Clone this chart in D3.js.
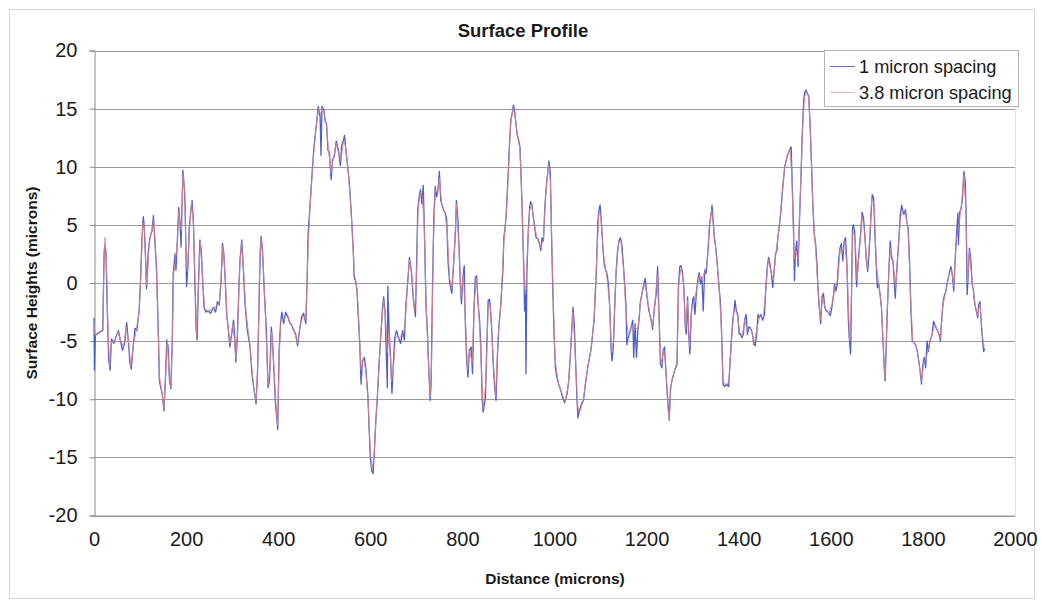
<!DOCTYPE html>
<html>
<head>
<meta charset="utf-8">
<script src="https://cdn.jsdelivr.net/npm/d3@7"></script>
<style>
  body { margin: 0; background: #fff; }
  svg { font-family: "Liberation Sans", Arial, sans-serif; }
</style>
</head>
<body>
<svg width="1044" height="606"></svg>
<script>
// tick values
var xTicks = [0, 200, 400, 600, 800, 1000, 1200, 1400, 1600, 1800, 2000]
var yTicks = [-20, -15, -10, -5, 0, 5, 10, 15, 20]
var seriesNames = ["1 micron spacing", "3.8 micron spacing"]

// [distance, height]
var profile1 = [[0,-3],[1,-7.5],[3,-4.5],[6,-4.4],[13,-4.2],[19,-4.1],[22,2.7],[24,3.3],[26,2.5],[29,-2.6],[32,-6.6],[35,-7.5],[38,-4.8],[43,-5.2],[48,-4.6],[53,-4.1],[57,-4.9],[62,-5.8],[67,-5.1],[71,-3.4],[75,-5.2],[78,-6.9],[81,-7.4],[85,-5.5],[89,-3.9],[93,-4.1],[98,-2.4],[101,0.2],[104,3.7],[107,5.7],[109,5.0],[112,2.2],[114,-0.5],[118,2.8],[122,4.0],[126,4.5],[129,5.8],[132,3.7],[136,1.1],[140,-4.7],[142,-8.4],[145,-9],[148,-9.5],[152,-11],[155,-8.4],[158,-4.9],[161,-5.5],[164,-8.4],[167,-9.1],[170,-4.9],[172,0.8],[176,2.5],[178,1.1],[181,3.7],[184,6.5],[187,5.1],[189,3.1],[191,6.5],[193,9.7],[196,8.3],[198,6.5],[201,-0.3],[204,1.4],[207,4.8],[211,6.5],[213,7.1],[216,5.1],[219,0.2],[222,-4.1],[224,-4.9],[227,0.2],[230,3.7],[233,2.8],[236,0.2],[239,-2.1],[243,-2.5],[248,-2.4],[253,-2.6],[259,-2.1],[264,-2.5],[268,-1.6],[272,-1.9],[276,0.2],[279,3.4],[282,2.5],[285,0.2],[288,-2.6],[292,-4.1],[295,-5.5],[299,-4.4],[303,-3.2],[306,-4.9],[308,-6.8],[311,-4.9],[314,-1.2],[317,2.0],[321,3.7],[324,1.4],[328,-1.8],[333,-4.1],[339,-5.5],[343,-7.8],[348,-9.3],[352,-10.4],[355,-7.8],[358,-2.6],[361,2.8],[363,4.0],[366,2.8],[369,-0.1],[374,-3.8],[378,-9],[381,-8.4],[385,-3.8],[388,-5.2],[391,-7.8],[394,-10.4],[397,-11.6],[399,-12.6],[402,-5.8],[405,-3.5],[408,-2.5],[412,-3.5],[416,-2.5],[421,-2.9],[425,-3.4],[429,-3.6],[434,-4.1],[438,-4.4],[442,-5.4],[447,-3.9],[451,-2.9],[455,-2.6],[460,-3.5],[463,0.5],[465,4.3],[468,6.0],[473,9.1],[477,11.4],[480,12.6],[484,14],[487,15.2],[491,14.3],[493,11.0],[495,15.2],[499,14.9],[502,13.9],[505,13.7],[508,11.4],[511,11.3],[515,8.9],[518,10.6],[522,10.9],[526,12.2],[531,11.4],[535,10.1],[538,11.9],[542,12.3],[544,12.7],[547,11.4],[551,10],[554,8.9],[557,7.1],[560,5.1],[563,2.8],[565,0.5],[568,0.2],[571,-0.6],[574,-2.9],[577,-5.2],[580,-8.7],[583,-6.7],[587,-6.4],[590,-7.2],[595,-9.8],[597,-12.1],[600,-15.0],[603,-16.1],[606,-16.4],[609,-14.4],[612,-11.8],[615,-10.1],[619,-7],[624,-3.8],[626,-2.4],[629,-1.2],[632,-2.4],[635,-6.4],[637,-9],[638,-0.3],[641,-4.1],[644,-6.4],[647,-9.5],[650,-7],[653,-4.7],[657,-4.1],[661,-4.7],[666,-5.2],[670,-4.1],[674,-4.9],[677,-2.1],[682,0.5],[685,2.2],[689,1.1],[693,-1.2],[698,-2.9],[700,0.5],[703,6.3],[706,7.4],[709,8.0],[712,6.8],[715,8.4],[718,3.7],[721,-2.1],[724,-4.1],[727,-7.5],[730,-10.1],[732,-8.7],[735,-0.6],[738,5.7],[741,8.3],[744,7.4],[747,8.0],[750,9.6],[753,7.1],[756,6.7],[759,6.3],[763,6.0],[766,5.4],[769,1.7],[772,0.2],[774,-0.3],[777,-0.9],[781,1.7],[785,4.5],[787,7.1],[790,5.7],[793,2.8],[796,-0.6],[798,-1.8],[801,0.5],[804,1.5],[806,-3.0],[809,-6.4],[812,-8.1],[815,-5.8],[819,-5.5],[822,-7.8],[825,-2.4],[828,0.5],[831,0.6],[834,-1.8],[837,-3],[840,-5.3],[843,-10.1],[845,-11.1],[850,-9.9],[853,-5.3],[856,-1.5],[859,-1.4],[861,-2.4],[864,-4.1],[867,-7],[870,-9],[873,-10.1],[876,-6.4],[879,-3.8],[883,-2.1],[888,1.1],[890,3.9],[893,4.8],[896,6.5],[899,9.1],[902,11.7],[905,14],[908,14.6],[911,15.3],[914,14.6],[917,13.4],[919,12.8],[922,12.3],[925,11.7],[928,8.5],[931,4.5],[934,0.2],[935,-2.4],[937,-0.7],[938,-7.8],[940,0.8],[943,4.5],[946,6.5],[948,7.0],[951,6.7],[954,5.7],[957,4.8],[960,3.9],[964,3.8],[967,3.4],[970,2.8],[973,3.9],[976,3.6],[979,6.5],[982,8.2],[985,9.4],[988,10.5],[991,9.4],[993,5.1],[996,-0.1],[999,-4.4],[1002,-7.3],[1005,-8.1],[1009,-8.7],[1014,-9.3],[1018,-9.9],[1022,-10.3],[1027,-9.6],[1031,-8.4],[1035,-5.8],[1040,-2.1],[1043,-3.5],[1046,-7],[1049,-10.1],[1051,-11.6],[1054,-11],[1059,-10.4],[1063,-10.1],[1067,-8.7],[1072,-7.3],[1076,-6.4],[1079,-5.8],[1082,-4.7],[1086,-3.2],[1091,1.1],[1094,5.1],[1096,6.2],[1099,6.7],[1102,5.1],[1105,3.1],[1108,1.6],[1111,1.1],[1114,0.8],[1117,-0.1],[1120,-2.1],[1123,-5.8],[1125,-6.7],[1128,-5.3],[1131,-1.8],[1134,1.1],[1137,2.8],[1140,3.6],[1143,3.9],[1146,3.4],[1149,1.9],[1152,0.2],[1155,-1.8],[1157,-5.3],[1160,-4.7],[1165,-4.1],[1168,-3.5],[1170,-3.2],[1172,-6.4],[1175,-3.5],[1178,-6.4],[1181,-4.1],[1184,-3],[1186,-1.8],[1191,-0.7],[1194,-0.1],[1197,0.4],[1201,-1.2],[1205,-2.4],[1210,-3.2],[1213,-4],[1217,-2.1],[1221,-0.9],[1224,1.4],[1227,-2.7],[1230,-7],[1233,-7.3],[1236,-5.8],[1239,-5.5],[1241,-7],[1244,-9],[1247,-10.7],[1249,-11.8],[1252,-9],[1255,-8.4],[1259,-7.8],[1263,-7.3],[1266,-7],[1269,-0.4],[1272,1.4],[1275,1.5],[1278,0.9],[1281,-0.4],[1284,-3.8],[1286,-4.4],[1289,-1.2],[1291,-4.1],[1294,-6.1],[1297,-2.7],[1300,-1.5],[1302,-1.2],[1305,-2.7],[1308,-0.9],[1311,0.2],[1314,0.9],[1317,-0.1],[1320,0.5],[1323,-2.4],[1326,1.1],[1329,0.8],[1331,1.6],[1334,3.1],[1337,5.1],[1340,5.9],[1342,6.7],[1345,5.1],[1347,3.9],[1350,3.1],[1353,1.9],[1356,0.2],[1360,-1.5],[1363,-4.4],[1366,-8.7],[1369,-8.9],[1374,-8.7],[1378,-8.9],[1381,-7],[1384,-5],[1387,-3.2],[1390,-2.4],[1392,-1.5],[1395,-2.4],[1398,-2.7],[1401,-4.4],[1404,-4.4],[1407,-4.7],[1410,-4.4],[1413,-3.2],[1416,-2.7],[1419,-4.4],[1422,-3.8],[1424,-3.8],[1427,-4],[1430,-4.4],[1433,-5.3],[1436,-5.4],[1439,-4.4],[1442,-2.7],[1445,-3],[1448,-2.7],[1452,-3.2],[1456,-2.7],[1459,-0.4],[1462,1.4],[1465,2.2],[1468,1.6],[1471,0.8],[1474,-0.4],[1477,1.1],[1480,2.5],[1483,2.8],[1485,3.9],[1488,4.8],[1491,5.9],[1494,7.4],[1497,8.8],[1500,10],[1503,10.5],[1506,11],[1509,11.3],[1512,11.6],[1514,11.7],[1516,8.8],[1519,5.1],[1521,0.2],[1523,2.5],[1526,3.6],[1529,1.4],[1532,5.4],[1535,8.8],[1538,12.8],[1541,15.7],[1543,16.3],[1546,16.6],[1549,16.3],[1552,16.1],[1555,13.7],[1558,10.3],[1561,6.8],[1564,4.2],[1567,3.4],[1570,1.6],[1572,-0.4],[1575,-2.1],[1578,-3.5],[1581,-1.2],[1584,-0.9],[1587,-2.1],[1590,-2.4],[1594,-2.5],[1599,-2.8],[1603,-1.9],[1606,-1],[1608,-0.1],[1611,-0.7],[1614,-0.1],[1617,1.9],[1620,3],[1623,3.4],[1626,1.9],[1629,3.6],[1632,3.9],[1635,1.6],[1638,-3],[1640,-4.7],[1643,-6.1],[1645,-1],[1647,4.7],[1649,5],[1652,4.4],[1655,0.7],[1656,-0.3],[1659,1.6],[1662,3],[1665,4.4],[1668,6.1],[1671,5.6],[1674,4.1],[1677,2.1],[1680,1],[1682,1.9],[1685,3.9],[1688,6.4],[1690,7.6],[1693,7.3],[1696,4.1],[1699,1.3],[1701,-0.4],[1704,-0.1],[1707,-1],[1710,-2.1],[1713,-4.7],[1716,-7.3],[1718,-8.4],[1720,-5.9],[1723,-2.1],[1726,1],[1729,3.6],[1732,2.1],[1735,1.9],[1738,-0.1],[1740,-1.3],[1742,0.4],[1745,2.1],[1748,3.9],[1751,5.9],[1754,6.7],[1757,6.1],[1759,5.9],[1762,6.3],[1765,5.3],[1768,4.7],[1771,1.9],[1774,-2.4],[1777,-5],[1780,-5.1],[1784,-5.3],[1788,-5.9],[1791,-6.7],[1794,-7.6],[1797,-8.7],[1800,-7],[1803,-6.4],[1806,-7.3],[1809,-5],[1812,-5.9],[1815,-5],[1818,-4.7],[1820,-4.4],[1823,-3.3],[1826,-3.6],[1829,-3.9],[1832,-4.1],[1835,-4.4],[1838,-5],[1841,-3],[1844,-1.6],[1847,-1],[1850,-0.7],[1852,-0.1],[1855,0.4],[1858,1],[1861,1.4],[1864,0.7],[1867,-0.7],[1870,1.9],[1873,4.1],[1876,6],[1877,3.3],[1880,6.1],[1883,6.4],[1886,7.3],[1889,9.6],[1892,8.7],[1894,5.6],[1896,-1],[1898,0.4],[1901,3],[1904,2.1],[1907,-0.1],[1910,-0.7],[1913,-1.9],[1916,-2.4],[1919,-3],[1921,-1.9],[1924,-1.6],[1927,-3.6],[1929,-4.7],[1932,-5.9],[1934,-5.6]]

var profile38 = [[0,-3.5],[3,-4.5],[8,-4.4],[15,-4.2],[19,-4.0],[22,2.5],[24,3.9],[27,2.0],[30,-3.5],[34,-7.2],[38,-5.0],[45,-5.0],[52,-4.2],[58,-5.0],[64,-5.5],[70,-3.8],[75,-5.0],[80,-7.2],[86,-5.2],[92,-4.0],[98,-2.5],[102,1.0],[106,5.0],[109,5.2],[112,2.0],[115,-0.2],[120,3.5],[127,4.8],[130,5.5],[134,2.5],[138,-2.0],[142,-8.0],[147,-9.3],[152,-10.8],[156,-7.5],[159,-5.0],[163,-7.8],[167,-9.0],[170,-5.0],[173,0.8],[177,2.0],[181,3.5],[184,6.2],[187,5.0],[190,4.5],[193,9.3],[197,7.8],[200,2.0],[203,1.0],[207,4.5],[212,7.0],[216,5.0],[219,0.5],[223,-4.5],[227,0.0],[231,3.5],[235,1.0],[240,-2.2],[248,-2.4],[258,-2.2],[266,-2.0],[272,-1.8],[276,0.5],[280,3.2],[285,0.5],[289,-3.0],[295,-5.2],[302,-3.5],[308,-6.5],[312,-4.0],[316,1.0],[320,3.5],[325,1.0],[330,-2.5],[339,-5.5],[346,-8.8],[352,-10.2],[356,-6.5],[360,2.0],[363,3.8],[367,2.0],[372,-2.5],[378,-8.8],[382,-7.5],[386,-4.2],[391,-7.5],[396,-11.0],[399,-12.3],[402,-6.5],[406,-3.2],[412,-3.2],[418,-2.8],[426,-3.4],[434,-4.0],[442,-5.2],[448,-3.6],[455,-2.8],[460,-3.2],[464,2.0],[469,6.5],[474,9.5],[479,12.0],[484,14.0],[488,15.0],[492,14.5],[496,15.0],[500,14.5],[505,13.5],[509,11.5],[515,9.5],[520,10.8],[526,12.0],[532,11.0],[536,10.5],[542,12.2],[546,11.8],[551,10.0],[556,7.5],[560,5.0],[565,1.0],[571,-0.5],[576,-4.0],[580,-7.5],[585,-6.5],[590,-7.5],[595,-10.0],[600,-14.5],[604,-16.0],[608,-15.0],[612,-12.0],[617,-8.5],[623,-4.2],[629,-1.5],[633,-3.0],[637,-6.0],[641,-4.5],[646,-8.5],[650,-7.5],[655,-4.5],[662,-4.8],[670,-4.3],[675,-4.0],[680,-0.5],[685,2.0],[690,0.8],[696,-2.5],[700,0.0],[704,6.5],[709,7.8],[713,7.5],[717,5.0],[721,-1.5],[726,-6.5],[730,-9.8],[733,-7.0],[737,3.5],[741,8.0],[746,7.8],[750,9.0],[755,6.8],[762,6.0],[767,4.5],[772,0.5],[777,-0.5],[783,3.0],[787,6.8],[792,3.5],[797,-1.2],[802,0.8],[806,-2.5],[811,-7.5],[816,-5.8],[821,-7.0],[826,-1.5],[831,0.5],[836,-2.8],[841,-7.0],[845,-10.8],[851,-8.5],[856,-2.0],[861,-2.0],[866,-6.0],[872,-9.8],[877,-5.0],[884,-1.5],[890,3.5],[896,6.3],[901,10.5],[905,13.8],[910,15.0],[914,14.5],[919,12.8],[925,11.5],[929,7.5],[934,0.5],[937,-1.0],[941,2.5],[946,6.3],[950,6.8],[956,5.0],[962,3.9],[970,3.0],[976,3.8],[981,7.8],[987,10.2],[991,8.8],[996,0.5],[1001,-6.5],[1008,-8.5],[1016,-9.5],[1023,-10.2],[1030,-8.8],[1035,-5.8],[1040,-2.5],[1045,-6.0],[1050,-10.5],[1054,-11.2],[1062,-10.2],[1070,-7.8],[1080,-5.5],[1086,-3.0],[1092,2.5],[1097,6.3],[1101,5.5],[1106,2.5],[1113,0.8],[1119,-1.5],[1124,-6.0],[1128,-5.0],[1133,0.5],[1139,3.4],[1144,3.7],[1150,1.2],[1155,-2.5],[1160,-4.5],[1168,-3.6],[1175,-3.8],[1181,-4.0],[1187,-1.5],[1194,0.0],[1200,-0.8],[1208,-3.0],[1213,-3.8],[1218,-1.8],[1223,0.8],[1227,-3.0],[1231,-7.0],[1237,-5.8],[1241,-6.8],[1246,-10.5],[1249,-11.8],[1253,-8.8],[1260,-7.6],[1266,-6.8],[1270,0.0],[1275,1.4],[1280,0.0],[1285,-4.0],[1289,-1.5],[1293,-5.5],[1298,-2.2],[1303,-1.5],[1309,-0.5],[1315,0.7],[1320,0.3],[1325,0.8],[1331,1.5],[1336,4.8],[1341,6.3],[1345,5.0],[1350,3.0],[1356,0.5],[1362,-3.5],[1366,-8.5],[1373,-8.8],[1379,-8.5],[1384,-5.0],[1390,-2.3],[1396,-2.5],[1402,-4.2],[1408,-4.5],[1413,-3.2],[1419,-4.0],[1426,-3.9],[1434,-5.2],[1440,-3.8],[1446,-2.8],[1453,-3.0],[1458,-1.0],[1464,2.0],[1470,1.0],[1475,0.2],[1481,2.6],[1487,4.5],[1493,7.0],[1499,9.8],[1505,10.9],[1512,11.5],[1516,8.5],[1520,2.0],[1524,2.8],[1529,2.0],[1534,8.0],[1539,13.5],[1543,16.0],[1547,16.4],[1552,16.0],[1556,12.8],[1561,6.5],[1566,3.5],[1572,-0.3],[1577,-3.2],[1582,-1.2],[1588,-2.2],[1596,-2.6],[1603,-1.8],[1609,-0.3],[1615,0.2],[1620,2.8],[1625,2.5],[1631,3.6],[1636,0.5],[1641,-5.0],[1644,-2.5],[1648,4.5],[1653,3.8],[1657,0.2],[1662,2.8],[1668,5.8],[1673,4.5],[1679,1.2],[1684,3.5],[1689,7.3],[1694,6.8],[1699,1.5],[1705,-0.3],[1710,-2.0],[1715,-6.5],[1718,-8.2],[1722,-3.0],[1727,2.0],[1730,3.0],[1736,1.5],[1741,-0.5],[1746,2.8],[1751,5.5],[1756,6.2],[1762,6.0],[1768,4.5],[1773,-1.0],[1778,-5.0],[1786,-5.5],[1792,-7.0],[1797,-8.5],[1802,-6.8],[1807,-6.5],[1813,-5.5],[1820,-4.4],[1826,-3.6],[1833,-4.2],[1838,-4.8],[1843,-2.0],[1850,-0.7],[1857,0.8],[1862,1.2],[1867,-0.3],[1872,3.5],[1878,5.0],[1884,6.8],[1889,9.3],[1893,6.5],[1897,0.0],[1901,2.8],[1906,0.5],[1912,-1.6],[1918,-2.8],[1924,-1.8],[1929,-4.5],[1933,-5.5]]

var colors = ["#4c5fc9", "#d9828f"]

var svg = d3.select("svg")

// outer chart frame
svg.append("rect").attr("x", 9.5).attr("y", 9.5).attr("width", 1025).attr("height", 589)
  .attr("fill", "#fff").attr("stroke", "#d8d8d8")

var xScale = d3.scaleLinear().domain([0, 2000]).range([94, 1015])
var yScale = d3.scaleLinear().domain([-20, 20]).range([515.5, 50.5])

// gridlines
svg.append("g").selectAll("line").data(yTicks).enter().append("line")
  .attr("x1", 94).attr("x2", 1015)
  .attr("y1", d => Math.round(yScale(d)) + 0.5).attr("y2", d => Math.round(yScale(d)) + 0.5)
  .attr("stroke", "#9a9a9a").attr("stroke-width", 1)

svg.append("line").attr("x1", 1015.5).attr("x2", 1015.5).attr("y1", 50.5).attr("y2", 515.5)
  .attr("stroke", "#e0e0e0")

// plain labels: hyphen minus, no thousands separator
var plain = d => String(d)

// y axis
var yAxis = d3.axisLeft(yScale).tickValues(yTicks).tickFormat(plain).tickSize(5).tickPadding(12)
var yAxisG = svg.append("g").attr("transform", "translate(94.5,0)").call(yAxis)
yAxisG.select(".domain").attr("stroke", "#8a8a8a")
yAxisG.selectAll(".tick line").attr("stroke", "#8a8a8a")
yAxisG.selectAll("text").attr("font-size", 20).attr("fill", "#1a1a1a")
  .attr("font-family", "Liberation Sans, Arial, sans-serif")

// x axis
var xAxis = d3.axisBottom(xScale).tickValues(xTicks).tickFormat(plain).tickSize(0).tickPadding(16)
var xAxisG = svg.append("g").attr("transform", "translate(0,515.5)").call(xAxis)
xAxisG.select(".domain").attr("stroke", "#9a9a9a")
xAxisG.selectAll("text").attr("font-size", 20).attr("fill", "#1a1a1a")
  .attr("font-family", "Liberation Sans, Arial, sans-serif")

// lines
var lineGen = d3.line().x(d => xScale(d[0])).y(d => yScale(d[1]))

svg.append("path").datum(profile1).attr("class", "profile")
  .attr("d", lineGen).attr("fill", "none")
  .attr("stroke", colors[0]).attr("stroke-width", 1.3).attr("stroke-linejoin", "round")

svg.append("path").datum(profile38).attr("class", "profile")
  .attr("d", lineGen).attr("fill", "none")
  .attr("stroke", colors[1]).attr("stroke-width", 1).attr("stroke-opacity", 0.9)
  .attr("stroke-linejoin", "round")

// titles
svg.append("text").attr("x", 523).attr("y", 37).attr("text-anchor", "middle")
  .attr("font-size", 18.5).attr("font-weight", "bold").attr("fill", "#1a1a1a").text("Surface Profile")

svg.append("text").attr("x", 555).attr("y", 584).attr("text-anchor", "middle")
  .attr("font-size", 15.5).attr("font-weight", "bold").attr("fill", "#1a1a1a").text("Distance (microns)")

svg.append("text").attr("transform", "translate(37,283) rotate(-90)").attr("text-anchor", "middle")
  .attr("font-size", 15.5).attr("font-weight", "bold").attr("fill", "#1a1a1a").text("Surface Heights (microns)")

// legend
var legend = svg.append("g").attr("transform", "translate(824,50)")
legend.append("rect").attr("x", 0.5).attr("y", 0.5).attr("width", 194).attr("height", 56)
  .attr("fill", "#fff").attr("stroke", "#b5b5b5")

legend.selectAll(".legendItem").data(seriesNames).enter().append("g").attr("class", "legendItem")
  .attr("transform", (d, i) => `translate(0, ${16 + i * 26})`)
  .each(function (d, i) {
    var g = d3.select(this)
    g.append("line").attr("x1", 6).attr("x2", 31).attr("y1", 0.5).attr("y2", 0.5)
      .attr("stroke", colors[i]).attr("stroke-width", 1).attr("stroke-opacity", i ? 0.6 : 0.9)
    g.append("text").attr("x", 35).attr("y", 6.5).attr("font-size", 18.2).attr("fill", "#1a1a1a").text(d)
  })
</script>
</body>
</html>
